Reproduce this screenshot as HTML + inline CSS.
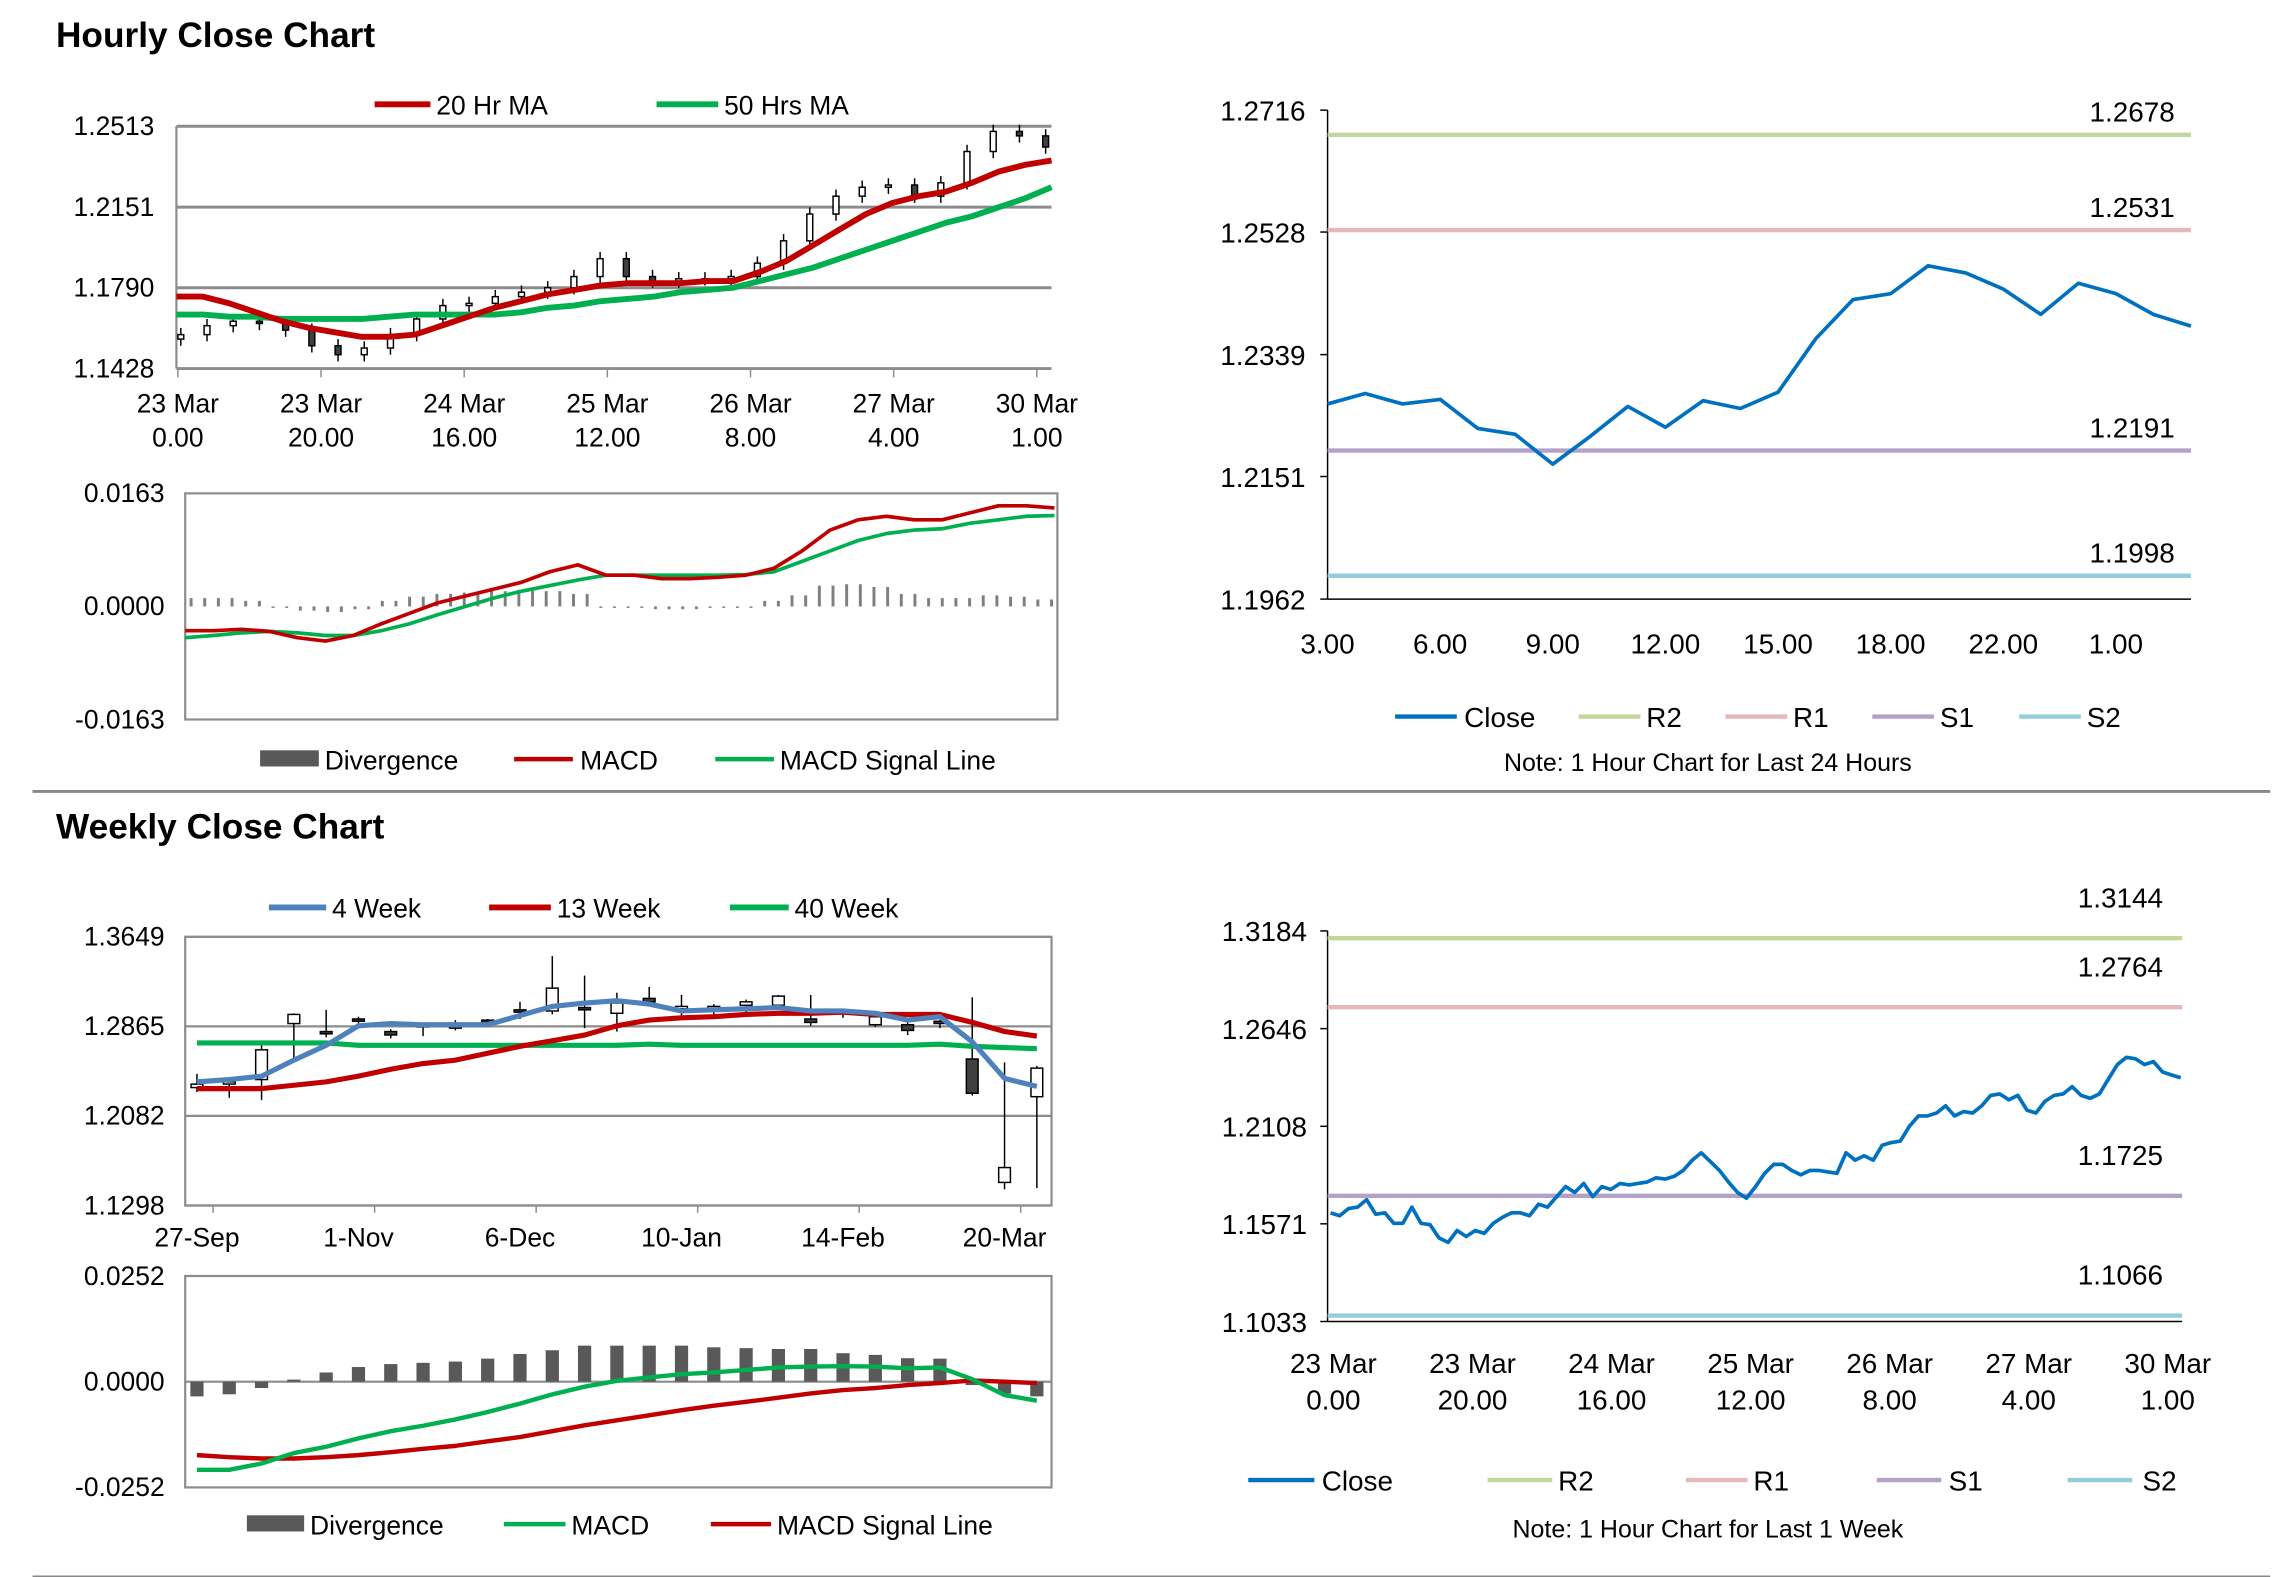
<!DOCTYPE html>
<html><head><meta charset="utf-8"><style>
html,body{margin:0;padding:0;background:#fff;}
svg{display:block;font-family:"Liberation Sans",Arial,sans-serif;}
text{fill:#000;}
</style></head><body>
<svg id="s" width="2291" height="1577" viewBox="0 0 1560 1074" xmlns="http://www.w3.org/2000/svg">
<text x="38" y="32" font-size="24" font-weight="bold">Hourly Close Chart</text>
<text x="38" y="571" font-size="24" font-weight="bold">Weekly Close Chart</text>
<line x1="22" y1="539" x2="1546" y2="539" stroke="#888" stroke-width="2"/>
<line x1="22" y1="1074" x2="1546" y2="1074" stroke="#888" stroke-width="2"/>

<g font-size="18">
<line x1="255" y1="71" x2="293" y2="71" stroke="#c00000" stroke-width="4"/><text x="297" y="78">20 Hr MA</text>
<line x1="447" y1="71" x2="489" y2="71" stroke="#00b050" stroke-width="4"/><text x="493" y="78">50 Hrs MA</text>
</g>
<g font-size="18">
<rect x="177" y="511" width="40" height="11" fill="#595959"/><text x="221" y="524">Divergence</text>
<line x1="350" y1="517" x2="390" y2="517" stroke="#c00000" stroke-width="3"/><text x="395" y="524">MACD</text>
<line x1="487" y1="517" x2="527" y2="517" stroke="#00b050" stroke-width="3"/><text x="531" y="524">MACD Signal Line</text>
</g>
<g font-size="19">
<line x1="950" y1="488" x2="992" y2="488" stroke="#0070c0" stroke-width="3"/><text x="997" y="495">Close</text>
<line x1="1075" y1="488" x2="1117" y2="488" stroke="#c3d69b" stroke-width="3"/><text x="1121" y="495">R2</text>
<line x1="1175" y1="488" x2="1217" y2="488" stroke="#e6b9b8" stroke-width="3"/><text x="1221" y="495">R1</text>
<line x1="1275" y1="488" x2="1317" y2="488" stroke="#b3a2c7" stroke-width="3"/><text x="1321" y="495">S1</text>
<line x1="1375" y1="488" x2="1417" y2="488" stroke="#93cddd" stroke-width="3"/><text x="1421" y="495">S2</text>
<text x="1163" y="525" font-size="17" text-anchor="middle">Note: 1 Hour Chart for Last 24 Hours</text>
</g>
<g font-size="18">
<line x1="183" y1="618" x2="222" y2="618" stroke="#4f81bd" stroke-width="4"/><text x="226" y="625">4 Week</text>
<line x1="333" y1="618" x2="375" y2="618" stroke="#c00000" stroke-width="4"/><text x="379" y="625">13 Week</text>
<line x1="497" y1="618" x2="537" y2="618" stroke="#00b050" stroke-width="4"/><text x="541" y="625">40 Week</text>
</g>
<g font-size="18">
<rect x="168" y="1032" width="39" height="11" fill="#595959"/><text x="211" y="1045">Divergence</text>
<line x1="343" y1="1038" x2="385" y2="1038" stroke="#00b050" stroke-width="3"/><text x="389" y="1045">MACD</text>
<line x1="484" y1="1038" x2="525" y2="1038" stroke="#c00000" stroke-width="3"/><text x="529" y="1045">MACD Signal Line</text>
</g>
<g font-size="19">
<line x1="850" y1="1008" x2="895" y2="1008" stroke="#0070c0" stroke-width="3"/><text x="900" y="1015">Close</text>
<line x1="1013" y1="1008" x2="1057" y2="1008" stroke="#c3d69b" stroke-width="3"/><text x="1061" y="1015">R2</text>
<line x1="1148" y1="1008" x2="1190" y2="1008" stroke="#e6b9b8" stroke-width="3"/><text x="1194" y="1015">R1</text>
<line x1="1278" y1="1008" x2="1322" y2="1008" stroke="#b3a2c7" stroke-width="3"/><text x="1327" y="1015">S1</text>
<line x1="1408" y1="1008" x2="1452" y2="1008" stroke="#93cddd" stroke-width="3"/><text x="1459" y="1015">S2</text>
<text x="1163" y="1047" font-size="17" text-anchor="middle">Note: 1 Hour Chart for Last 1 Week</text>
</g>
</svg>
<script>
// ---- data ----
const hTicks=["1.2513","1.2151","1.1790","1.1428"];
const hXLab1=["23 Mar","23 Mar","24 Mar","25 Mar","26 Mar","27 Mar","30 Mar"];
const hXLab2=["0.00","20.00","16.00","12.00","8.00","4.00","1.00"];
const hClose=[1.158,1.162,1.164,1.163,1.160,1.153,1.149,1.152,1.158,1.165,1.171,1.172,1.175,1.177,1.179,1.184,1.192,1.184,1.182,1.183,1.183,1.184,1.190,1.200,1.212,1.220,1.224,1.225,1.220,1.226,1.240,1.249,1.247,1.242];
const hMA20=[1.175,1.175,1.172,1.168,1.164,1.161,1.159,1.157,1.157,1.158,1.162,1.166,1.170,1.173,1.176,1.178,1.180,1.181,1.181,1.181,1.182,1.182,1.186,1.191,1.198,1.205,1.212,1.217,1.220,1.222,1.226,1.231,1.234,1.236];
const hMA50=[1.167,1.167,1.166,1.166,1.165,1.165,1.165,1.165,1.166,1.167,1.167,1.167,1.167,1.168,1.170,1.171,1.173,1.174,1.175,1.177,1.178,1.179,1.182,1.185,1.188,1.192,1.196,1.200,1.204,1.208,1.211,1.215,1.219,1.224];
const mTicks=["0.0163","0.0000","-0.0163"];
const hMacd=[-0.0035,-0.0035,-0.0033,-0.0036,-0.0045,-0.005,-0.0042,-0.0025,-0.001,0.0005,0.0015,0.0025,0.0035,0.005,0.006,0.0045,0.0045,0.004,0.004,0.0042,0.0045,0.0055,0.008,0.011,0.0125,0.013,0.0125,0.0125,0.0135,0.0145,0.0145,0.0142];
const hSignal=[-0.0045,-0.0042,-0.0038,-0.0036,-0.0038,-0.0042,-0.0042,-0.0035,-0.0025,-0.0012,0.0,0.0012,0.0022,0.003,0.0038,0.0045,0.0045,0.0045,0.0045,0.0045,0.0046,0.005,0.0065,0.008,0.0095,0.0105,0.011,0.0112,0.012,0.0125,0.013,0.0131];
const hDiv=[0.0012,0.0012,0.0008,0.0,-0.0006,-0.0008,-0.0004,0.0008,0.0014,0.0018,0.002,0.0022,0.0024,0.0022,0.0018,0.0,0.0,-0.0004,-0.0004,-0.0002,0.0,0.0008,0.0016,0.003,0.0032,0.0028,0.0018,0.0012,0.0012,0.0016,0.0014,0.0010];
const p2Ticks=["1.2716","1.2528","1.2339","1.2151","1.1962"];
const p2XLab=["3.00","6.00","9.00","12.00","15.00","18.00","22.00","1.00"];
const p2Close=[1.2263,1.2279,1.2263,1.2270,1.2225,1.2216,1.2170,1.2213,1.2259,1.2227,1.2268,1.2256,1.2281,1.2363,1.2424,1.2433,1.2476,1.2465,1.2440,1.2401,1.2449,1.2433,1.2401,1.2383];
const p2Levels=[1.2678,1.2531,1.2191,1.1998];
const levelNames=["r2","r1","s1","s2"];
const wTicks=["1.3649","1.2865","1.2082","1.1298"];
const wXLab=["27-Sep","1-Nov","6-Dec","10-Jan","14-Feb","20-Mar"];
const wOpen=[1.233,1.238,1.240,1.289,1.282,1.293,1.282,1.288,1.285,1.292,1.301,1.300,1.303,1.298,1.311,1.302,1.302,1.305,1.305,1.293,1.300,1.288,1.288,1.291,1.258,1.150,1.225];
const wClose=[1.236,1.238,1.266,1.297,1.280,1.291,1.279,1.287,1.288,1.290,1.299,1.320,1.301,1.307,1.308,1.304,1.304,1.308,1.313,1.290,1.300,1.295,1.283,1.290,1.228,1.163,1.250];
const wHigh=[1.245,1.240,1.270,1.298,1.301,1.295,1.284,1.289,1.292,1.293,1.308,1.348,1.331,1.316,1.321,1.314,1.306,1.310,1.314,1.314,1.302,1.298,1.293,1.292,1.312,1.255,1.252];
const wLow=[1.229,1.224,1.222,1.255,1.277,1.288,1.276,1.278,1.283,1.288,1.293,1.297,1.285,1.282,1.304,1.296,1.294,1.298,1.304,1.287,1.294,1.286,1.279,1.285,1.226,1.144,1.145];
const w4=[1.238,1.240,1.243,1.257,1.270,1.287,1.289,1.288,1.288,1.288,1.296,1.304,1.307,1.309,1.306,1.300,1.301,1.302,1.303,1.300,1.300,1.298,1.292,1.295,1.273,1.241,1.234];
const w13=[1.232,1.232,1.232,1.235,1.238,1.243,1.249,1.254,1.257,1.263,1.269,1.274,1.279,1.287,1.292,1.294,1.295,1.297,1.298,1.298,1.299,1.297,1.297,1.297,1.290,1.282,1.278];
const w40=[1.272,1.272,1.272,1.272,1.272,1.270,1.270,1.270,1.270,1.270,1.270,1.270,1.270,1.270,1.271,1.270,1.270,1.270,1.270,1.270,1.270,1.270,1.270,1.271,1.269,1.268,1.267];
const wmTicks=["0.0252","0.0000","-0.0252"];
const wDiv=[-0.0035,-0.003,-0.0015,0.0005,0.0022,0.0035,0.0042,0.0045,0.0048,0.0055,0.0066,0.0075,0.0086,0.0086,0.0086,0.0086,0.0082,0.008,0.0078,0.0078,0.0068,0.0064,0.0056,0.0055,-0.0008,-0.0028,-0.0035];
const wMacd=[-0.021,-0.021,-0.0195,-0.017,-0.0155,-0.0135,-0.0118,-0.0105,-0.009,-0.0072,-0.0052,-0.003,-0.0012,0.0002,0.001,0.0018,0.0022,0.0028,0.0034,0.0036,0.0037,0.0036,0.0032,0.0034,0.0006,-0.0032,-0.0045];
const wSignal=[-0.0175,-0.018,-0.0183,-0.0183,-0.018,-0.0175,-0.0168,-0.016,-0.0153,-0.0142,-0.0132,-0.0118,-0.0104,-0.0092,-0.008,-0.0068,-0.0057,-0.0048,-0.0038,-0.0028,-0.002,-0.0015,-0.0008,-0.0003,0.0003,0.0,-0.0003];
const p4Ticks=["1.3184","1.2646","1.2108","1.1571","1.1033"];
const p4XLab1=["23 Mar","23 Mar","24 Mar","25 Mar","26 Mar","27 Mar","30 Mar"];
const p4XLab2=["0.00","20.00","16.00","12.00","8.00","4.00","1.00"];
const p4Close=[1.1631,1.1615,1.1655,1.1663,1.1704,1.1623,1.1631,1.1574,1.1574,1.1663,1.1574,1.1566,1.1493,1.1469,1.1534,1.1501,1.1534,1.1518,1.1574,1.1606,1.1631,1.1631,1.1615,1.1679,1.1663,1.1720,1.1776,1.1744,1.1793,1.1720,1.1776,1.1760,1.1793,1.1785,1.1793,1.1801,1.1825,1.1817,1.1833,1.1865,1.1922,1.1962,1.1914,1.1865,1.1801,1.1744,1.1712,1.1776,1.1849,1.1898,1.1898,1.1865,1.1841,1.1865,1.1865,1.1857,1.1849,1.1962,1.1922,1.1946,1.1922,1.2003,1.2019,1.2027,1.2108,1.2165,1.2165,1.2181,1.2221,1.2165,1.2189,1.2181,1.2221,1.2278,1.2286,1.2254,1.2278,1.2197,1.2181,1.2246,1.2278,1.2286,1.2326,1.2278,1.2262,1.2286,1.2367,1.2448,1.2488,1.2480,1.2448,1.2464,1.2407,1.2391,1.2375];
const p4Levels=[1.3144,1.2764,1.1725,1.1066];

// ---- helpers ----
const S=document.getElementById('s');const NS='http://www.w3.org/2000/svg';
function mk(tag,at,parent){const e=document.createElementNS(NS,tag);for(const k in at)e.setAttribute(k,at[k]);(parent||S).appendChild(e);return e;}
function lin(d0,d1,r0,r1){return v=>r0+(v-d0)/(d1-d0)*(r1-r0);}
function poly(vals,xf,yf,color,w,name){const pts=vals.map((v,i)=>xf(i).toFixed(1)+','+yf(v).toFixed(1)).join(' ');
 const p=mk('polyline',{points:pts,fill:'none',stroke:color,'stroke-width':w,'stroke-linejoin':'round'});
 
 return p;}
function txt(x,y,s,anchor,size,name){const t=mk('text',{x:x,y:y,'text-anchor':anchor,'font-size':size});t.textContent=s;
 
 return t;}
function hl(x1,x2,y,c,w,name){const l=mk('line',{x1:x1,x2:x2,y1:y,y2:y,stroke:c,'stroke-width':w});
 
 return l;}
function vl(x,y1,y2,c,w,name){const l=mk('line',{x1:x,x2:x,y1:y1,y2:y2,stroke:c,'stroke-width':w});
 
 return l;}
function candles(o,c,h,l,xf,yf,bw,name){for(let i=0;i<c.length;i++){const x=xf(i);
 vl(x,yf(h[i]),yf(l[i]),'#000',1,name+'-wick');
 const up=c[i]>=o[i];const y1=yf(Math.max(o[i],c[i])),y2=yf(Math.min(o[i],c[i]));
 const r=mk('rect',{x:x-bw/2,y:y1,width:bw,height:Math.max(1.5,y2-y1),fill:up?'#fff':'#404040',stroke:'#000','stroke-width':1});
 
 }}

// ---- Panel 1: hourly price ----
{const y=lin(1.1428,1.2513,251,86);const X0=120,X1=716;
 hTicks.forEach(t=>{const yy=y(+t);if(+t>1.143)hl(X0,X1,yy,'#8c8c8c',2,'h-gridline');txt(105,yy+6,t,'end',18,'h-y-tick');});
 vl(X0,86,251,'#8c8c8c',1.5,'h-y-axis');hl(X0,X1,251,'#8c8c8c',2,'h-x-axis');
 hXLab1.forEach((s,i)=>{const x=121+i*97.5;vl(x,251,257,'#8c8c8c',1,'h-x-tick');txt(x,281,s,'middle',18,'h-x-label');txt(x,304,hXLab2[i],'middle',18,'h-x-label');});
 const n=hClose.length;const xc=i=>123+i*(712-123)/(n-1);
 const op=hClose.map((v,i)=>i?hClose[i-1]:v-0.002);
 const hi=hClose.map((v,i)=>Math.max(v,op[i])+0.003);const lo=hClose.map((v,i)=>Math.min(v,op[i])-0.003);
 candles(op,hClose,hi,lo,xc,y,4,'h-candle');
 const xm=i=>X0+i*(X1-X0)/(hMA20.length-1);
 poly(hMA50,xm,y,'#00b050',4,'ma50-line');poly(hMA20,xm,y,'#c00000',4,'ma20-line');}

// ---- Panel 1b: hourly MACD ----
{const y=lin(-0.0163,0.0163,490,336);const X0=126,X1=720;
 mk('rect',{x:X0,y:336,width:X1-X0,height:154,fill:'none',stroke:'#8c8c8c','stroke-width':1.5});
 mTicks.forEach(t=>txt(112,y(+t)+6,t,'end',18,'hm-y-tick'));
 const n=hDiv.length;const xb=i=>X0+4+i*(X1-X0-8)/(n-1);
 for(let k=0;k<n*2;k++){const i=Math.floor(k/2);const v=hDiv[i];const x=xb(0)+k*(X1-X0-8)/(n*2-1);
  const r=mk('rect',{x:x-1,y:Math.min(y(v),y(0)),width:2,height:Math.max(1,Math.abs(y(v)-y(0))),fill:'#7f7f7f'});
  
  }
 const xm=i=>X0+i*(X1-X0-2)/(hMacd.length-1);
 poly(hSignal,xm,y,'#00b050',2.5,'h-signal-line');poly(hMacd,xm,y,'#c00000',2.5,'h-macd-line');}

// ---- Panel 2: hourly pivot ----
{const y=lin(1.1962,1.2716,408,75);const X0=904,X1=1492;
 vl(X0,75,408,'#000',1,'p2-y-axis');hl(X0,X1,408,'#000',1,'p2-x-axis');
 p2Ticks.forEach(t=>{const yy=y(+t);hl(X0-5,X0,yy,'#000',1,'p2-y-tickmark');txt(889,yy+7,t,'end',19,'p2-y-tick');});
 const cols=['#c3d69b','#e6b9b8','#b3a2c7','#93cddd'];
 p2Levels.forEach((v,i)=>{hl(X0,X1,y(v),cols[i],3,'p2-'+levelNames[i]+'-line');txt(1481,y(v)-9,v.toFixed(4),'end',19,'p2-'+levelNames[i]+'-label');});
 const n=p2Close.length;const xf=i=>X0+i*(X1-X0)/(n-1);
 p2XLab.forEach((s,i)=>{const x=X0+i*3*(X1-X0)/(n-1)+(i>=6?-(X1-X0)/(n-1)*(i-5)/1*0:0);txt(x,445,s,'middle',19,'p2-x-label');});
 poly(p2Close,xf,y,'#0070c0',2.5,'p2-close-line');}

// ---- Panel 3: weekly price ----
{const y=lin(1.1298,1.3649,821,638);const X0=126,X1=716;
 mk('rect',{x:X0,y:638,width:X1-X0,height:183,fill:'none',stroke:'#8c8c8c','stroke-width':1.5});
 wTicks.forEach(t=>{const yy=y(+t);hl(X0,X1,yy,'#8c8c8c',1.5,'w-gridline');txt(112,yy+6,t,'end',18,'w-y-tick');});
 const xf=i=>134+i*22;
 wXLab.forEach((s,i)=>{const x=134+i*110;vl(x+11,821,826,'#8c8c8c',1,'w-x-tick');txt(x,849,s,'middle',18,'w-x-label');});
 candles(wOpen,wClose,wHigh,wLow,xf,y,8,'w-candle');
 poly(w40,xf,y,'#00b050',3.5,'w40-line');poly(w13,xf,y,'#c00000',3.5,'w13-line');poly(w4,xf,y,'#4f81bd',3.5,'w4-line');}

// ---- Panel 3b: weekly MACD ----
{const y=lin(-0.0252,0.0252,1013,869);const X0=126,X1=716;
 mk('rect',{x:X0,y:869,width:X1-X0,height:144,fill:'none',stroke:'#8c8c8c','stroke-width':1.5});
 hl(X0,X1,y(0),'#8c8c8c',1.5,'wm-zero-line');
 wmTicks.forEach(t=>txt(112,y(+t)+6,t,'end',18,'wm-y-tick'));
 const xf=i=>134+i*22;
 wDiv.forEach((v,i)=>{const r=mk('rect',{x:xf(i)-4.5,y:Math.min(y(v),y(0)),width:9,height:Math.abs(y(v)-y(0)),fill:'#595959'});
  
  });
 poly(wSignal,xf,y,'#c00000',3,'w-signal-line');poly(wMacd,xf,y,'#00b050',3,'w-macd-line');}

// ---- Panel 4: weekly pivot ----
{const y=lin(1.1033,1.3184,900,634);const X0=904,X1=1486;
 vl(X0,634,900,'#000',1,'p4-y-axis');hl(X0,X1,900,'#000',1,'p4-x-axis');
 p4Ticks.forEach(t=>{const yy=y(+t);hl(X0-5,X0,yy,'#000',1,'p4-y-tickmark');txt(890,yy+7,t,'end',19,'p4-y-tick');});
 const cols=['#c3d69b','#e6b9b8','#b3a2c7','#93cddd'];
 p4Levels.forEach((v,i)=>{hl(X0,X1,y(v),cols[i],3,'p4-'+levelNames[i]+'-line');txt(1473,y(v)-21,v.toFixed(4),'end',19,'p4-'+levelNames[i]+'-label');});
 p4XLab1.forEach((s,i)=>{const x=908+i*94.7;txt(x,935,s,'middle',19,'p4-x-label');txt(x,960,p4XLab2[i],'middle',19,'p4-x-label');});
 const n=p4Close.length;const xf=i=>906+i*(1485-906)/(n-1);
 poly(p4Close,xf,y,'#0070c0',2.5,'p4-close-line');}
</script>
</body></html>
